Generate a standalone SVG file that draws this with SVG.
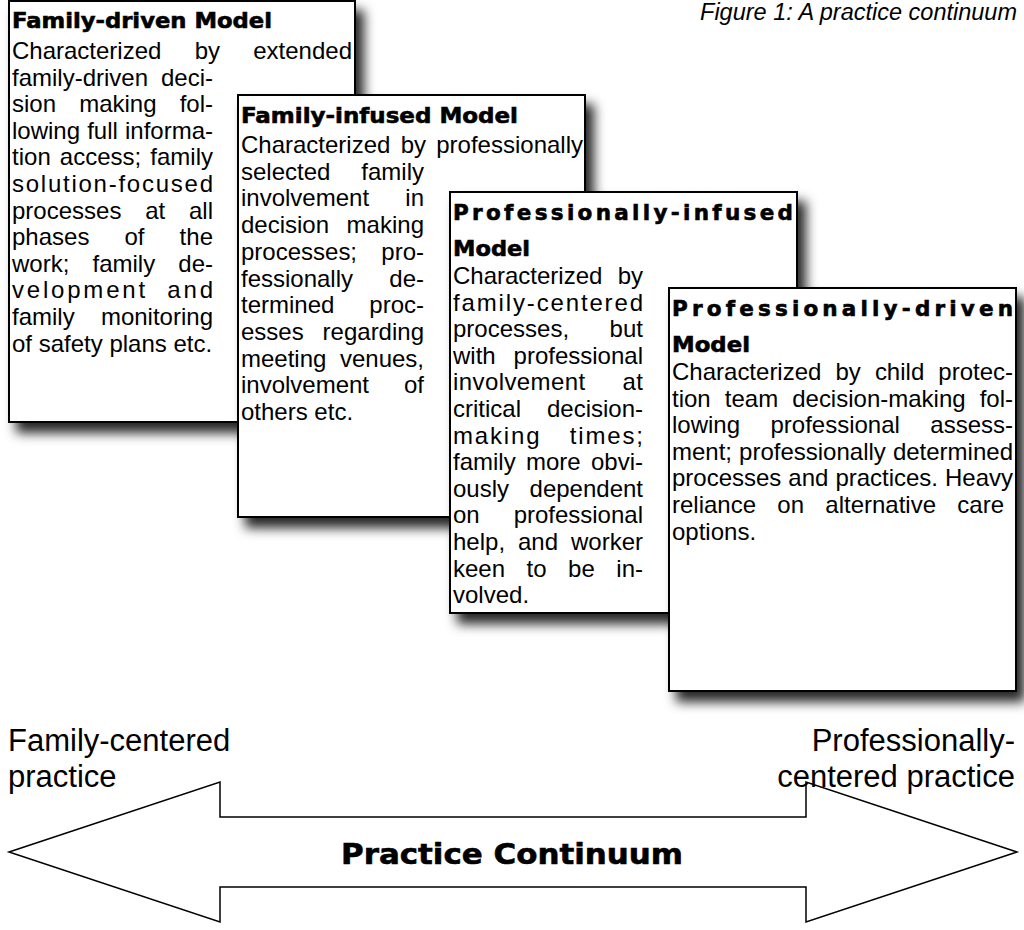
<svg xmlns="http://www.w3.org/2000/svg" width="1024" height="930" viewBox="0 0 1024 930">
  <defs>
    <filter id="shadow" x="-10%" y="-10%" width="130%" height="130%">
      <feDropShadow dx="8" dy="10" stdDeviation="6" flood-color="#000" flood-opacity="0.85"/>
    </filter>
    <style>
      .box { fill: #fff; stroke: #000; stroke-width: 2; }
      .t { font-family: "Liberation Sans", Arial, sans-serif; font-size: 24px; fill: #000; }
      .h { font-family: "DejaVu Sans", "Liberation Sans", sans-serif; font-weight: bold; font-size: 21.5px; fill: #000; stroke: #000; stroke-width: 0.6; }
      .lbl { font-family: "Liberation Sans", Arial, sans-serif; font-size: 31px; fill: #000; }
      .cap { font-family: "Liberation Sans", Arial, sans-serif; font-style: italic; font-size: 23.5px; fill: #000; }
      .arrow { fill: #fff; stroke: #000; stroke-width: 1.5; stroke-linejoin: miter; }
    </style>
  </defs>

  <rect width="1024" height="930" fill="#fff"/>

  <text class="cap" x="1017" y="20" text-anchor="end">Figure 1: A practice continuum</text>

  <!-- Model 1 -->
  <g id="family-driven">
    <rect class="box" x="9" y="1" width="346" height="421" filter="url(#shadow)"/>
    <text class="h" x="12" y="28" textLength="260" lengthAdjust="spacingAndGlyphs">Family-driven Model</text>
    <g class="t">
      <text x="12" y="59" word-spacing="26.6" textLength="340" lengthAdjust="spacing">Characterized by extended</text>
      <text x="12" y="85.6" word-spacing="6.3" textLength="201" lengthAdjust="spacing">family-driven deci-</text>
      <text x="12" y="112.2" word-spacing="16.5" textLength="201" lengthAdjust="spacing">sion making fol-</text>
      <text x="12" y="138.8" word-spacing="0.5" textLength="201" lengthAdjust="spacing">lowing full informa-</text>
      <text x="12" y="165.4" word-spacing="2.4" textLength="201" lengthAdjust="spacing">tion access; family</text>
      <text x="12" y="192" textLength="201" lengthAdjust="spacing">solution-focused</text>
      <text x="12" y="218.6" word-spacing="17.1" textLength="201" lengthAdjust="spacing">processes at all</text>
      <text x="12" y="245.2" word-spacing="28.4" textLength="201" lengthAdjust="spacing">phases of the</text>
      <text x="12" y="271.8" word-spacing="16.5" textLength="201" lengthAdjust="spacing">work; family de-</text>
      <text x="12" y="298.4" word-spacing="10" textLength="201" lengthAdjust="spacing">velopment and</text>
      <text x="12" y="325" word-spacing="19.6" textLength="201" lengthAdjust="spacing">family monitoring</text>
      <text x="12" y="351.6">of safety plans etc.</text>
    </g>
  </g>

  <!-- Model 2 -->
  <g id="family-infused">
    <rect class="box" x="238" y="95" width="347" height="422" filter="url(#shadow)"/>
    <text class="h" x="241" y="123" textLength="277" lengthAdjust="spacingAndGlyphs">Family-infused Model</text>
    <g class="t">
      <text x="241" y="153" word-spacing="3.6" textLength="342" lengthAdjust="spacing">Characterized by professionally</text>
      <text x="241" y="179.7" word-spacing="24.3" textLength="183" lengthAdjust="spacing">selected family</text>
      <text x="241" y="206.4" word-spacing="29.6" textLength="183" lengthAdjust="spacing">involvement in</text>
      <text x="241" y="233.1" word-spacing="10.9" textLength="183" lengthAdjust="spacing">decision making</text>
      <text x="241" y="259.8" word-spacing="17.6" textLength="183" lengthAdjust="spacing">processes; pro-</text>
      <text x="241" y="286.5" word-spacing="29.6" textLength="183" lengthAdjust="spacing">fessionally de-</text>
      <text x="241" y="313.2" word-spacing="28.3" textLength="183" lengthAdjust="spacing">termined proc-</text>
      <text x="241" y="339.9" word-spacing="12.3" textLength="183" lengthAdjust="spacing">esses regarding</text>
      <text x="241" y="366.6" word-spacing="6.9" textLength="183" lengthAdjust="spacing">meeting venues,</text>
      <text x="241" y="393.3" word-spacing="28.3" textLength="183" lengthAdjust="spacing">involvement of</text>
      <text x="241" y="420">others etc.</text>
    </g>
  </g>

  <!-- Model 3 -->
  <g id="professionally-infused">
    <rect class="box" x="450" y="192" width="347" height="421" filter="url(#shadow)"/>
    <text class="h" x="453" y="220" textLength="340" lengthAdjust="spacing">Professionally-infused</text>
    <text class="h" x="453" y="256" textLength="77" lengthAdjust="spacingAndGlyphs">Model</text>
    <g class="t">
      <text x="453" y="284" word-spacing="8.6" textLength="190" lengthAdjust="spacing">Characterized by</text>
      <text x="453" y="310.6" textLength="190" lengthAdjust="spacing">family-centered</text>
      <text x="453" y="337.2" word-spacing="33.9" textLength="190" lengthAdjust="spacing">processes, but</text>
      <text x="453" y="363.8" word-spacing="11.3" textLength="190" lengthAdjust="spacing">with professional</text>
      <text x="453" y="390.4" word-spacing="30" textLength="190" lengthAdjust="spacing">involvement at</text>
      <text x="453" y="417" word-spacing="19.3" textLength="190" lengthAdjust="spacing">critical decision-</text>
      <text x="453" y="443.6" word-spacing="20" textLength="190" lengthAdjust="spacing">making times;</text>
      <text x="453" y="470.2" word-spacing="3.6" textLength="190" lengthAdjust="spacing">family more obvi-</text>
      <text x="453" y="496.8" word-spacing="13.9" textLength="190" lengthAdjust="spacing">ously dependent</text>
      <text x="453" y="523.4" word-spacing="27.3" textLength="190" lengthAdjust="spacing">on professional</text>
      <text x="453" y="550" word-spacing="6.3" textLength="190" lengthAdjust="spacing">help, and worker</text>
      <text x="453" y="576.6" word-spacing="14.9" textLength="190" lengthAdjust="spacing">keen to be in-</text>
      <text x="453" y="603.2">volved.</text>
    </g>
  </g>

  <!-- Model 4 -->
  <g id="professionally-driven">
    <rect class="box" x="669" y="288" width="347" height="403" filter="url(#shadow)"/>
    <text class="h" x="672" y="316" textLength="341" lengthAdjust="spacing">Professionally-driven</text>
    <text class="h" x="672" y="352" textLength="78" lengthAdjust="spacingAndGlyphs">Model</text>
    <g class="t">
      <text x="672" y="380" word-spacing="7.4" textLength="341" lengthAdjust="spacing">Characterized by child protec-</text>
      <text x="672" y="406.6" word-spacing="7.4" textLength="341" lengthAdjust="spacing">tion team decision-making fol-</text>
      <text x="672" y="433.2" word-spacing="23.8" textLength="341" lengthAdjust="spacing">lowing professional assess-</text>
      <text x="672" y="459.8" word-spacing="0.4" textLength="341" lengthAdjust="spacing">ment; professionally determined</text>
      <text x="672" y="486.4" word-spacing="0.4" textLength="341" lengthAdjust="spacing">processes and practices. Heavy</text>
      <text x="672" y="513" word-spacing="14.6" textLength="332" lengthAdjust="spacing">reliance on alternative care</text>
      <text x="672" y="539.6">options.</text>
    </g>
  </g>

  <!-- Continuum arrow -->
  <g id="continuum">
    <polygon class="arrow" points="9,852 220,782 220,817 806,817 806,782 1017,852 806,922 806,887 220,887 220,922"/>
    <text class="h" x="512" y="864" text-anchor="middle" style="font-size:29px" textLength="342" lengthAdjust="spacingAndGlyphs">Practice Continuum</text>
  </g>

  <g id="end-labels">
    <text class="lbl" x="8" y="751">Family-centered</text>
    <text class="lbl" x="8" y="787">practice</text>
    <text class="lbl" x="1015" y="751" text-anchor="end">Professionally-</text>
    <text class="lbl" x="1015" y="787" text-anchor="end">centered practice</text>
  </g>
</svg>
